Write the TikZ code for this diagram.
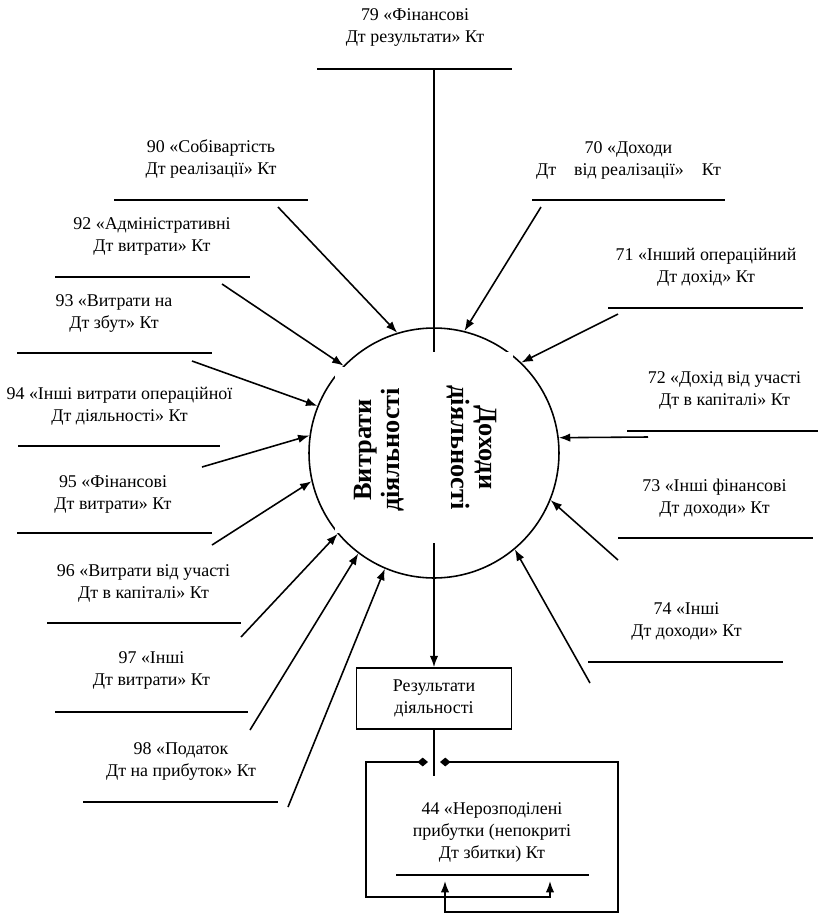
\documentclass[tikz,border=0pt]{standalone}
\usepackage{fontspec}
\setmainfont{Liberation Serif}
\usetikzlibrary{arrows.meta}
\usetikzlibrary{positioning}

\newcommand\acctfont{\fontsize{10.2}{12.5}\selectfont}
\newcommand\sidefont{\fontsize{15}{16}\selectfont\bfseries}

\begin{document}
\begin{tikzpicture}[
    x=0.02cm, y=-0.02cm,
    line width=0.9pt,
% Account labels and their rules
    acct/.style={align=center, font=\acctfont, inner sep=0pt},
    tline/.style={line width=1pt},
% Arrows
    feed/.style={-{Latex[length=6.5pt,width=4.8pt]}},
    fork/.style={{Diamond[length=6pt,width=5pt]}-{Latex[length=6.5pt,width=4.8pt]}},
% Texts inside the circle
    half/.style={fill=white, align=center, font=\sidefont, inner sep=0pt}
    ]
  \tikzstyle{resbox} = [draw, align=center, font=\acctfont, minimum width=3.1cm, minimum height=1.22cm]

  \useasboundingbox (0,0) rectangle (820,914);

  \node (ops) [circle, draw, minimum size=5cm, inner sep=0pt] at (434,453) {};
  \node (res) [resbox] at (434,698.5) {Результати\\діяльності};

% top account and the line through the circle
  \node (a79) [acct] at (415,27.5) {79 «Фінансові\\Дт результати» Кт};
  \draw[tline] (317,69) -- (512,69);
  \coordinate (t79) at (434,69);
  \draw[feed] (t79) -- (res.north);

% cost accounts
  \node (a90) [acct] at (211,159) {90 «Собівартість\\Дт реалізації» Кт};
  \node (a92) [acct] at (152,236) {92 «Адміністративні\\Дт витрати» Кт};
  \node (a93) [acct] at (114,313.5) {93 «Витрати на\\Дт збут» Кт};
  \node (a94) [acct] at (119.5,406) {94 «Інші витрати операційної\\Дт діяльності» Кт};
  \node (a95) [acct] at (113,494) {95 «Фінансові\\Дт витрати» Кт};
  \node (a96) [acct] at (143.5,583) {96 «Витрати від участі\\Дт в капіталі» Кт};
  \node (a97) [acct] at (151.5,670.5) {97 «Інші\\Дт витрати» Кт};
  \node (a98) [acct] at (181,761) {98 «Податок\\Дт на прибуток» Кт};
  \draw[tline] (114,200) -- (308,200);
  \draw[tline] (55,277) -- (250,277);
  \draw[tline] (17,353) -- (212,353);
  \draw[tline] (18,446) -- (220,446);
  \draw[tline] (17,533) -- (212,533);
  \draw[tline] (47,623) -- (241,623);
  \draw[tline] (55,712) -- (248,712);
  \draw[tline] (83,802) -- (278,802);
  \coordinate (s90) at (278,207);
  \coordinate (s92) at (222,284);
  \coordinate (s93) at (192,361);
  \coordinate (s94) at (202,467);
  \coordinate (s95) at (212,545);
  \coordinate (s96) at (241,637);
  \coordinate (s97) at (250,730);
  \coordinate (s98) at (288,807);
  \draw[feed] (s90) -- (ops.107.6);
  \draw[feed] (s92) -- (ops.136.2);
  \draw[feed] (s93) -- (ops.158.5);
  \draw[feed] (s94) -- (ops.172.8);
  \draw[feed] (s95) -- (ops.193.7);
  \draw[feed] (s96) -- (ops.220.3);
  \draw[feed] (s97) -- (ops.233.4);
  \draw[feed] (s98) -- (ops.247.8);

% income accounts
  \node (a70) [acct] at (628.5,160) {70 «Доходи\\Дт\quad від реалізації»\quad Кт};
  \node (a71) [acct] at (706,267.5) {71 «Інший операційний\\Дт дохід» Кт};
  \node (a72) [acct] at (724.5,390.5) {72 «Дохід від участі\\Дт в капіталі» Кт};
  \node (a73) [acct] at (714.5,498.5) {73 «Інші фінансові\\Дт доходи» Кт};
  \node (a74) [acct] at (686.5,621.5) {74 «Інші\\Дт доходи» Кт};
  \draw[tline] (532,200) -- (725,200);
  \draw[tline] (608,308) -- (803,308);
  \draw[tline] (627,431) -- (818,431);
  \draw[tline] (618,538) -- (813,538);
  \draw[tline] (588,662) -- (783,662);
  \coordinate (s70) at (541,207);
  \coordinate (s71) at (618,314);
  \coordinate (s72) at (648,437);
  \coordinate (s73) at (618,560);
  \coordinate (s74) at (590,683);
  \draw[feed] (s70) -- (ops.76.9);
  \draw[feed] (s71) -- (ops.46.6);
  \draw[feed] (s72) -- (ops.7.2);
  \draw[feed] (s73) -- (ops.-22.5);
  \draw[feed] (s74) -- (ops.-50);

% the two halves of the circle
  \node (costs) [half, rotate=90, minimum width=3.32cm, minimum height=1.76cm] at (379,450) {Витрати\\діяльності};
  \node (income) [half, rotate=-90, minimum width=3.82cm, minimum height=1.64cm] at (472,447.5) {Доходи\\діяльності};

% retained earnings
  \node (a44) [acct] at (492,832.5) {44 «Нерозподілені\\прибутки (непокриті\\Дт збитки) Кт};
  \draw[tline] (396,875) -- (589,875);
  \coordinate (drop) at (434,776);
  \draw (res.south) -- (drop);
  \coordinate (dl) at (428,762);
  \coordinate (dr) at (440,762);
  \draw[fork] (dl) -- (366,762) -- (366,897) -- (550,897) -- (550,881);
  \draw[fork] (dr) -- (618,762) -- (618,912) -- (445,912) -- (445,881);

\end{tikzpicture}
\end{document}
